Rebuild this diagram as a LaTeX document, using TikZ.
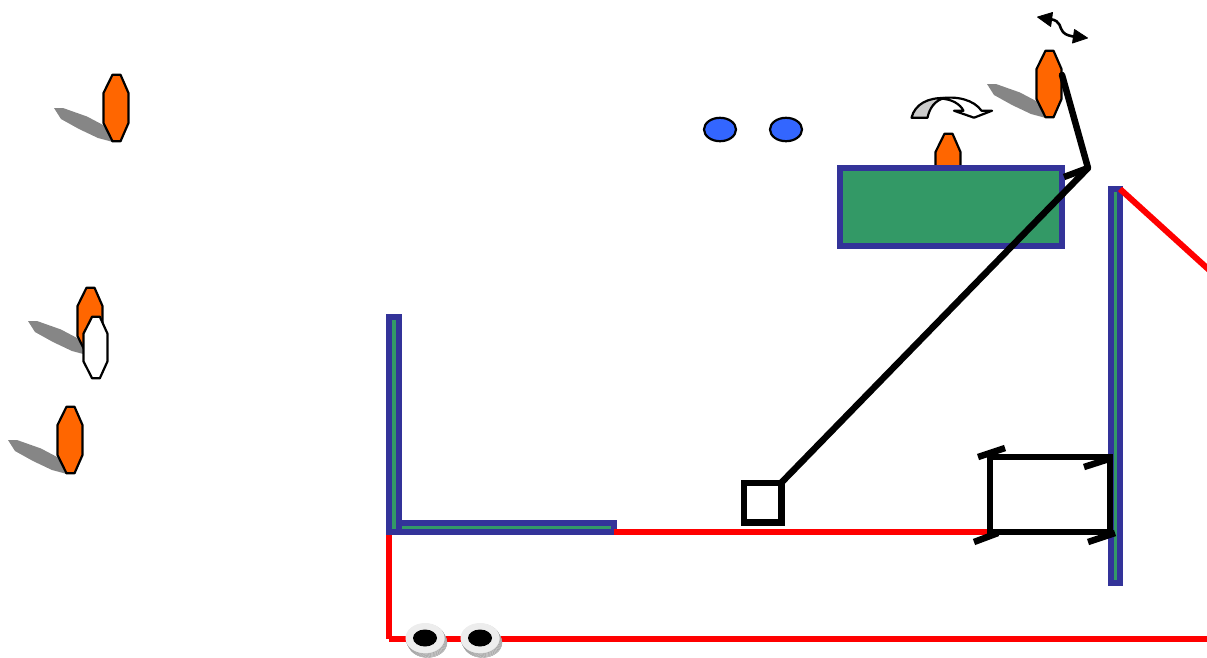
\documentclass[tikz,border=0pt]{standalone}
\definecolor{wallblue}{HTML}{333399}
\definecolor{wallgreen}{HTML}{339966}
\definecolor{bodyorange}{HTML}{FF6600}
\definecolor{headblue}{HTML}{3366FF}
\definecolor{shadowgrey}{HTML}{868686}
\tikzset{
  wall/.style={draw=wallblue,fill=wallgreen,line width=6pt,miter limit=10},
  redline/.style={draw=red,line width=6pt},
  blackline/.style={draw=black,line width=6.5pt},
  outline/.style={draw=black,line width=2.2pt,line join=round},
  orangebody/.style={outline,fill=bodyorange},
  whitebody/.style={outline,fill=white,xscale=0.96},
  shadow/.style={fill=shadowgrey,draw=none},
  headdot/.style={outline,fill=headblue},
  arrowfill/.style={fill=black,draw=black,line width=0.8pt,line join=round},
}
\newcommand{\shadowshape}[2]{\path[shadow,shift={(#1,#2)}] (-49,34)--(-40,34)--(-16,42.5)--(2,52)--(10,68)--(-5,64)--(-24,55)--(-42,45)--cycle;}
\newcommand{\octashape}[4]{% left, top, style, height
  \path[shift={(#1,#2)},#3] (9.5,0.7)--(17.5,0.7)--(25.5,{0.28*#4})--(25.5,{0.72*#4})--(17.5,{#4-0.7})--(9.5,{#4-0.7})--(0.5,{0.72*#4})--(0.5,{0.28*#4})--cycle;}
\newcommand{\discshape}[2]{%
  \foreach \d in {5,4,3,2,1}{\path[fill=black!14,draw=black!40,line width=0.4pt] ({#1+\d*0.5},{#2+\d*0.9}) ellipse (19.5 and 15);}
  \path[fill=black!7] (#1,#2) ellipse (19.5 and 15);
  \path[fill=black] (#1,#2) ellipse (12 and 8.5);}
\begin{document}
\begin{tikzpicture}[x=1pt,y=-1pt]
\useasboundingbox (0,0) rectangle (1207,657);
\clip (0,0) rectangle (1207,657);
% coordinates
\coordinate (joint) at (1088,168);
\coordinate (hand) at (1062,75);
\coordinate (elbow) at (1064,177);
\coordinate (sqcorner) at (781,483);
\coordinate (redA) at (614,532);
\coordinate (redB) at (990,532);
\coordinate (redC) at (389,532);
\coordinate (redD) at (389,639);
\coordinate (redE) at (1207,639);
\coordinate (redF) at (1120,189);
\coordinate (redG) at (1218,278);
% figures on the left
\shadowshape{103}{74}
\octashape{103}{74}{orangebody}{68}
\shadowshape{77}{287}
\octashape{77}{287}{orangebody}{68}
\octashape{83}{316}{whitebody}{63}
\shadowshape{57}{406}
\octashape{57}{406}{orangebody}{68}
% blue dots
\path[headdot] (720,129.5) ellipse (16 and 11.7);
\path[headdot] (786,129.5) ellipse (16 and 11.7);
% top right figure
\shadowshape{1036}{50}
\octashape{1036}{50}{orangebody}{68}
% small orange figure and table
\octashape{935}{133}{orangebody}{68}
\path[wall,line width=6.5pt] (840,168) rectangle (1062,246);
% curved arrow
\path[outline,fill=white] (940,98.5) .. controls (957,95.5) and (974,100) .. (981.5,110.7) -- (992,110.7) -- (974,117.7) -- (954,110.7) -- (963.5,110.7) .. controls (960,104) and (952,99) .. (940,98.5) -- cycle;
\path[outline,fill=black!20] (911.5,117.7) .. controls (915,104) and (928,97.5) .. (945,98) .. controls (935,100) and (929.5,108) .. (927.5,117.7) -- cycle;
% double arrow
\path[draw=black,line width=2.6pt] (1050,19) .. controls (1062,21) and (1059,28) .. (1063,32) .. controls (1066,35.5) and (1071,36) .. (1076,37);
\path[arrowfill] (1037.5,17)--(1052.5,12.5)--(1050.7,26.5)--cycle;
\path[arrowfill] (1087.5,38)--(1072.5,43)--(1074.5,29.5)--cycle;
% red line under the wall
\draw[redline] (redC) -- (redD);
% walls
\path[wall] (399,523) rectangle (614,532);
\path[wall] (389,317) rectangle (399,532);
\path[wall] (1111,189) rectangle (1120,583);
% red lines
\draw[redline] (redA) -- (redB);
\draw[redline] (redD) -- (redE);
\draw[redline] (redF) -- (redG);
% discs
\discshape{425}{638}
\discshape{480}{638}
% black lines
\draw[blackline] (744,483) rectangle (781.5,522.5);
\draw[blackline] (sqcorner) -- (joint);
\draw[blackline,line cap=round] (hand) -- (joint);
\draw[blackline] (joint) -- (elbow);
\draw[blackline] (990,457) rectangle (1110,532);
\draw[blackline] (978,457) -- (1005,448);
\draw[blackline] (1084,467) -- (1112,458);
\draw[blackline] (974,542) -- (998,533);
\draw[blackline] (1088,542) -- (1115,533);
\end{tikzpicture}
\end{document}
